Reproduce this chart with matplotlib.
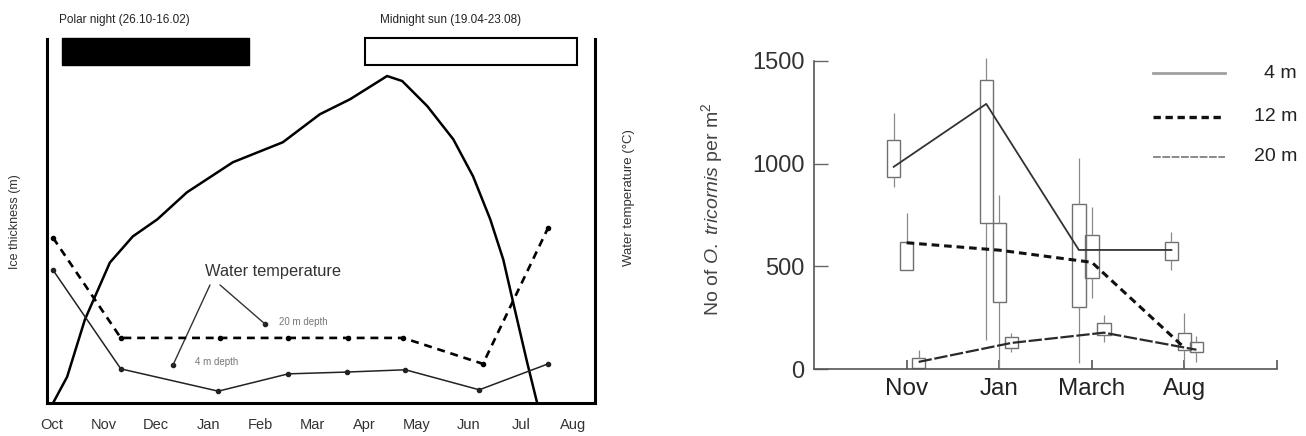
import matplotlib
matplotlib.use("Agg")
import matplotlib.pyplot as plt
from matplotlib.patches import Rectangle
from matplotlib.lines import Line2D
import matplotlib.transforms as mtransforms

plt.rcParams['font.family'] = ['Liberation Sans', 'DejaVu Sans']
plt.rcParams['mathtext.fontset'] = 'custom'
plt.rcParams['mathtext.rm'] = 'Liberation Sans'
plt.rcParams['mathtext.it'] = 'Liberation Sans:italic'

# ---- left panel: ice thickness and water temperature ----
months = ['Oct', 'Nov', 'Dec', 'Jan', 'Feb', 'Mar', 'Apr', 'May', 'Jun', 'Jul', 'Aug']

# months since 1 Oct, ice thickness (m)
ice_x = [0.02, 0.29, 0.63, 1.11, 1.55, 2.02, 2.59, 3.47, 4.43, 5.14, 5.72,
         6.43, 6.72, 7.20, 7.70, 8.08, 8.41, 8.66, 8.85, 9.12, 9.31]
ice_m = [0.0, 0.115, 0.366, 0.617, 0.732, 0.807, 0.926, 1.058, 1.146, 1.269, 1.335,
         1.437, 1.415, 1.305, 1.159, 0.996, 0.807, 0.630, 0.441, 0.176, 0.0]

# water temperature (deg C)
t20_x = [0.02, 1.32, 3.22, 4.53, 5.68, 6.74, 8.27, 9.52]
t20 = [1.63, -0.57, -0.57, -0.57, -0.57, -0.57, -1.14, 1.85]
t4_x = [0.02, 1.32, 3.19, 4.53, 5.66, 6.78, 8.20, 9.52]
t4 = [0.92, -1.25, -1.74, -1.36, -1.32, -1.27, -1.71, -1.14]

polar_night = (0.19, 3.78)
midnight_sun = (6.01, 10.08)

# ---- right panel: abundance ----
cats = ['Nov', 'Jan', 'March', 'Aug']
mean_4 = [984, 1290, 580, 580]
q1_4 = [935, 713, 305, 531]
q3_4 = [1115, 1405, 803, 620]
lo_4 = [886, 143, 30, 483]
hi_4 = [1246, 1513, 1027, 669]

mean_12 = [615, 579, 520, 105]
q1_12 = [483, 329, 444, 94]
q3_12 = [620, 713, 653, 178]
lo_12 = [483, 0, 347, 30]
hi_12 = [760, 847, 789, 274]

mean_20 = [36, 128, 178, 95]
q1_20 = [5, 103, 167, 86]
q3_20 = [55, 158, 227, 134]
lo_20 = [0, 84, 133, 37]
hi_20 = [94, 177, 264, 162]

fig = plt.figure(figsize=(13.06, 4.36), dpi=100)

ax1 = fig.add_axes([0.036, 0.0757, 0.4196, 0.835])
ax1.set_xlim(-0.096, 10.42)
ax1.set_ylim(0, 1.6)
ax1.plot(ice_x, ice_m, color='black', lw=1.8, solid_joinstyle='round')
for s in ['left', 'right', 'bottom']:
    ax1.spines[s].set_linewidth(2.2)
ax1.spines['top'].set_visible(False)
ax1.set_yticks([])
ax1.set_xticks(range(len(months)))
ax1.set_xticklabels(months, fontsize=10.5, color='#333333')
ax1.tick_params(axis='x', length=0, pad=11)

ax1t = ax1.twinx()
ax1t.set_ylim(-2, 6)
ax1t.plot(t20_x, t20, color='black', lw=1.9, dashes=(3, 2.2), marker='o', ms=3)
ax1t.plot(t4_x, t4, color='#222222', lw=1.1, marker='o', ms=3)
for s in ax1t.spines.values():
    s.set_visible(False)
ax1t.set_yticks([])

blend = mtransforms.blended_transform_factory(ax1.transData, ax1.transAxes)
ax1.add_patch(Rectangle((polar_night[0], 0.929), polar_night[1] - polar_night[0], 0.074,
                        transform=blend, facecolor='black', edgecolor='black', clip_on=False))
ax1.add_patch(Rectangle((midnight_sun[0], 0.929), midnight_sun[1] - midnight_sun[0], 0.074,
                        transform=blend, facecolor='white', edgecolor='black', lw=1.5, clip_on=False))
ax1.text(polar_night[0] - 0.06, 1.052, 'Polar night (26.10-16.02)', transform=blend,
         fontsize=8.5, va='center', ha='left', color='#222222')
ax1.text(midnight_sun[0] + 0.29, 1.052, 'Midnight sun (19.04-23.08)', transform=blend,
         fontsize=8.5, va='center', ha='left', color='#222222')

ax1.text(0.2883, 0.36, 'Water temperature', transform=ax1.transAxes, fontsize=11.8,
         va='center', ha='left', color='#333333')
ax1.annotate('', xy=(0.2299, 0.1044), xytext=(0.2974, 0.3242), xycoords='axes fraction',
             arrowprops=dict(arrowstyle='-', color='#333333', lw=1.0, shrinkA=0, shrinkB=0))
ax1.annotate('', xy=(0.3978, 0.2170), xytext=(0.3157, 0.3242), xycoords='axes fraction',
             arrowprops=dict(arrowstyle='-', color='#333333', lw=1.0, shrinkA=0, shrinkB=0))
ax1.plot([0.2299, 0.3978], [0.1044, 0.2170], 'o', ms=3, color='#222222', transform=ax1.transAxes)
ax1.text(0.4234, 0.2225, '20 m depth', transform=ax1.transAxes, fontsize=7,
         va='center', ha='left', color='#777777')
ax1.text(0.2701, 0.1126, '4 m depth', transform=ax1.transAxes, fontsize=7,
         va='center', ha='left', color='#777777')

fig.text(0.0115, 0.491, 'Ice thickness (m)', rotation=90, ha='center', va='center',
         fontsize=9, color='#333333')
fig.text(0.4816, 0.548, 'Water temperature (\u00b0C)', rotation=90, ha='center', va='center',
         fontsize=9.5, color='#333333')

# ---- right panel ----
ax2 = fig.add_axes([0.6233, 0.153, 0.3545, 0.7078])
ax2.set_xlim(-1, 4)
ax2.set_ylim(0, 1500)
xs = list(range(len(cats)))
offsets = {'4': -0.14, '12': 0.0, '20': 0.13}
bw = 0.145
groups = [('4', mean_4, q1_4, q3_4, lo_4, hi_4, dict(color='#333333', lw=1.3)),
          ('12', mean_12, q1_12, q3_12, lo_12, hi_12, dict(color='#111111', lw=2.2, dashes=(2.5, 1.6))),
          ('20', mean_20, q1_20, q3_20, lo_20, hi_20, dict(color='#2a2a2a', lw=1.6, dashes=(6, 1.2)))]
for key, mean, q1, q3, lo, hi, style in groups:
    px = [x + offsets[key] for x in xs]
    ax2.bar(px, [b - a for a, b in zip(q1, q3)], bottom=q1, width=bw, fill=False,
            edgecolor='#707070', lw=1.0, clip_on=False)
    ax2.vlines(px, q3, hi, color='#8a8a8a', lw=0.9, clip_on=False)
    ax2.vlines(px, lo, q1, color='#8a8a8a', lw=0.9, clip_on=False)
    ax2.plot(px, mean, **style, clip_on=False)

for s in ['top', 'right']:
    ax2.spines[s].set_visible(False)
for s in ['left', 'bottom']:
    ax2.spines[s].set_color('#555555')
    ax2.spines[s].set_linewidth(1.2)
ax2.set_yticks([0, 500, 1000, 1500])
ax2.set_yticklabels(['0', '500', '1000', '1500'], fontsize=17, color='#333333')
ax2.set_xticks(xs + [4])
ax2.set_xticklabels(cats + [''], fontsize=17.5, color='#222222')
ax2.tick_params(axis='y', direction='in', length=10, width=1.0, color='#666666', pad=7)
ax2.tick_params(axis='x', direction='in', length=6.5, width=1.2, color='#555555', pad=6)

fig.text(0.5452, 0.5206, r'No of $\mathit{O.\ tricornis}$ per m$^2$', rotation=90,
         ha='center', va='center', fontsize=14, color='#444444')

# legend
leg_rows = [('4 m', dict(color='#a0a0a0', lw=2.0)),
            ('12 m', dict(color='#111111', lw=2.4, dashes=(2.2, 1.4))),
            ('20 m', dict(color='#8a8a8a', lw=1.4, dashes=(4, 0.8)))]
leg_y = [0.960, 0.818, 0.688]
for (lab, st), yy in zip(leg_rows, leg_y):
    ax2.add_line(Line2D([0.732, 0.888], [yy, yy], transform=ax2.transAxes, clip_on=False, **st))
    ax2.text(1.043, yy, lab, transform=ax2.transAxes, ha='right', va='center',
             fontsize=14, color='#222222')

fig.savefig('out.png', dpi=100)
